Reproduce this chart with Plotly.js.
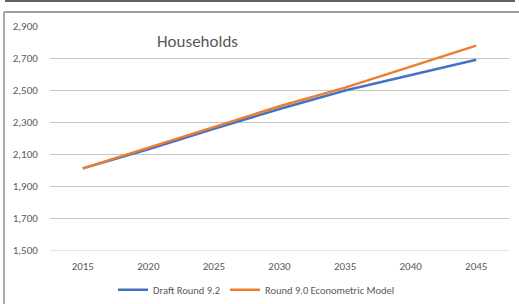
<!DOCTYPE html>
<html>
<head>
<meta charset="utf-8">
<script src="https://cdn.plot.ly/plotly-3.0.1.min.js"></script>
<style>html,body{margin:0;padding:0;background:#fff;}#chart{width:519px;height:304px;}</style>
</head>
<body>
<div id="chart"></div>
<script>
var years = ['2015','2020','2025','2030','2035','2040','2045'];
var draftRound92 = [2010, 2130, 2258, 2381, 2497, 2593, 2689];
var round90Econometric = [2010, 2140, 2272, 2398, 2515, 2645, 2777];
var seriesNames = ['Draft Round 9.2', 'Round 9.0 Econometric Model'];
var yTicks = [1500, 1700, 1900, 2100, 2300, 2500, 2700, 2900];
var chartTitle = 'Households';

var fontFam = 'Carlito, Calibri, Lato, "Liberation Sans", sans-serif';
var traces = [
  {x: years, y: draftRound92, name: seriesNames[0], type: 'scatter', mode: 'lines',
   line: {color: '#4472C4', width: 2.5}},
  {x: years, y: round90Econometric, name: seriesNames[1], type: 'scatter', mode: 'lines',
   line: {color: '#ED7D31', width: 2.5}}
];
var layout = {
  width: 519, height: 304,
  margin: {l: 50, r: 10, t: 26, b: 54, autoexpand: false},
  paper_bgcolor: '#fff', plot_bgcolor: '#fff',
  font: {family: fontFam, size: 10.5, color: '#595959'},
  showlegend: true,
  legend: {orientation: 'h', x: 0.45, xanchor: 'center', y: -0.178, yanchor: 'middle',
           font: {size: 10.5, color: '#595959'}, itemwidth: 30, tracegroupgap: 0},
  xaxis: {type: 'category', range: [-0.5, 6.5], showgrid: false, zeroline: false,
          showline: true, linecolor: '#e3e3e3', linewidth: 1,
          ticks: 'outside', ticklen: 6, tickcolor: 'rgba(0,0,0,0)',
          tickfont: {size: 11, color: '#595959'}, fixedrange: true},
  yaxis: {range: [1500, 2900], tickvals: yTicks, ticktext: yTicks.map(function(v){return v.toLocaleString('en-US');}),
          showgrid: true, gridcolor: '#c6c6c6', gridwidth: 1, zeroline: false, showline: false,
          ticks: 'outside', ticklen: 9, tickcolor: 'rgba(0,0,0,0)',
          tickfont: {size: 11, color: '#595959'}, fixedrange: true},
  annotations: [{text: chartTitle, xref: 'paper', yref: 'paper', x: 0.322, y: 0.93,
                 xanchor: 'center', yanchor: 'middle', showarrow: false,
                 font: {size: 17, color: '#595959', family: fontFam}}],
  shapes: [
    {type: 'line', xref: 'paper', yref: 'paper', x0: -0.098, x1: 1.013, y0: 1.112, y1: 1.112,
     line: {color: '#606060', width: 2}},
    {type: 'line', xref: 'paper', yref: 'paper', x0: -0.1002, x1: 1.05, y0: 1.0625, y1: 1.0625,
     line: {color: '#808080', width: 1.3}},
    {type: 'line', xref: 'paper', yref: 'paper', x0: -0.1002, x1: -0.1002, y0: 1.0625, y1: -0.3,
     line: {color: '#808080', width: 1.3}}
  ]
};
Plotly.newPlot('chart', traces, layout, {displayModeBar: false, staticPlot: true});
</script>
</body>
</html>
